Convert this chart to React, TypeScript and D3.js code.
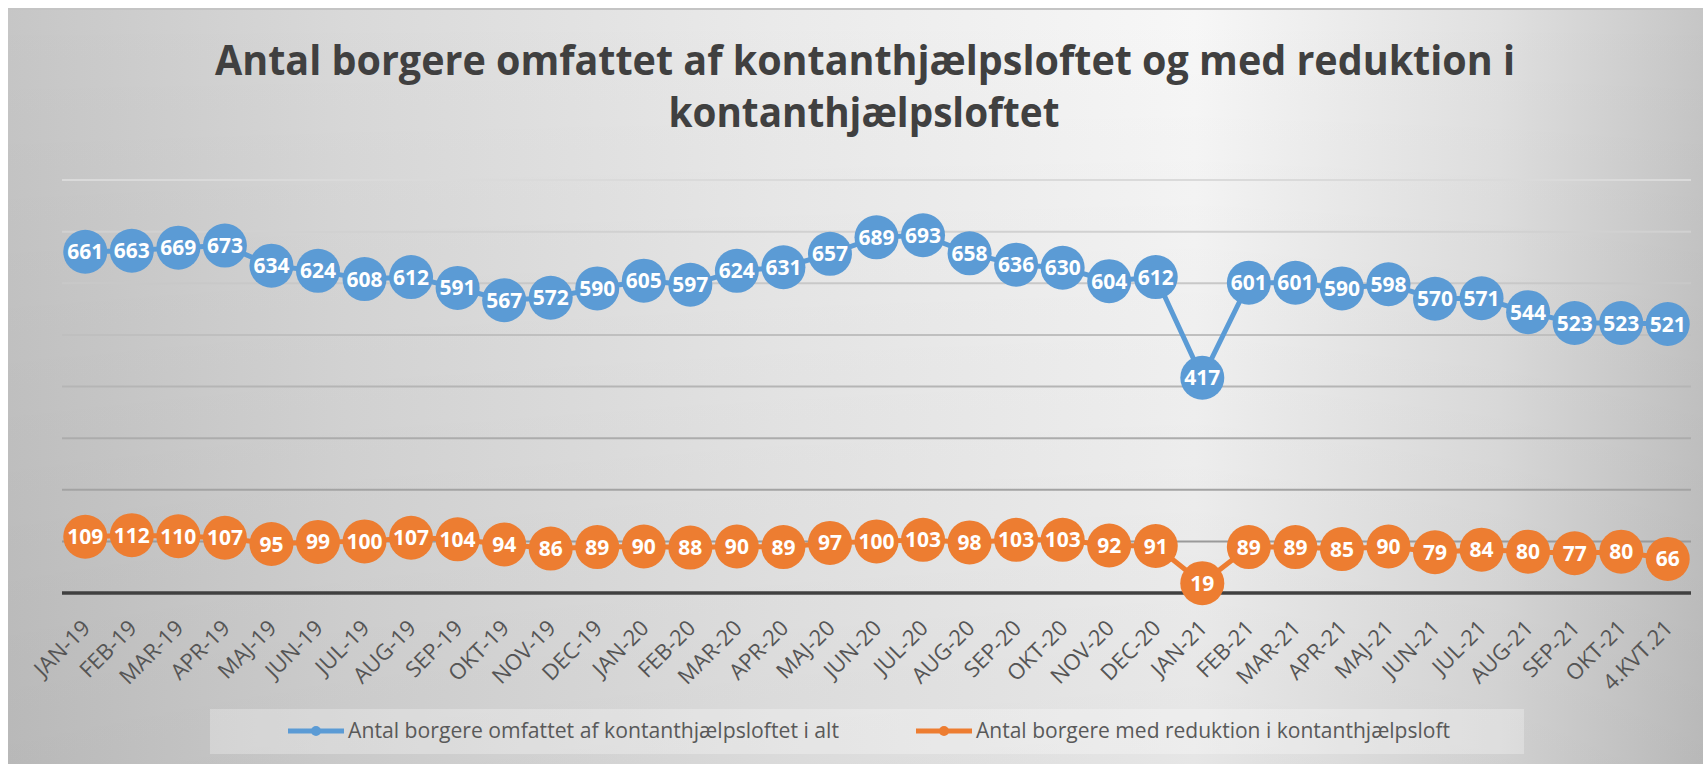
import React, { useEffect, useRef } from 'react';
import * as d3 from 'd3';

const months = [
  "JAN-19", "FEB-19", "MAR-19", "APR-19", "MAJ-19", "JUN-19", "JUL-19", "AUG-19", "SEP-19", "OKT-19", "NOV-19", "DEC-19",
  "JAN-20", "FEB-20", "MAR-20", "APR-20", "MAJ-20", "JUN-20", "JUL-20", "AUG-20", "SEP-20", "OKT-20", "NOV-20", "DEC-20",
  "JAN-21", "FEB-21", "MAR-21", "APR-21", "MAJ-21", "JUN-21", "JUL-21", "AUG-21", "SEP-21", "OKT-21", "4.KVT.21",
];

const totalCount = [
  661, 663, 669, 673, 634, 624, 608, 612, 591, 567, 572, 590,
  605, 597, 624, 631, 657, 689, 693, 658, 636, 630, 604, 612,
  417, 601, 601, 590, 598, 570, 571, 544, 523, 523, 521,
];

const reducedCount = [
  109, 112, 110, 107, 95, 99, 100, 107, 104, 94, 86, 89,
  90, 88, 90, 89, 97, 100, 103, 98, 103, 103, 92, 91,
  19, 89, 89, 85, 90, 79, 84, 80, 77, 80, 66,
];

const yTicks = [100, 200, 300, 400, 500, 600, 700, 800];

const titleLines = [
  "Antal borgere omfattet af kontanthjælpsloftet og med reduktion i",
  "kontanthjælpsloftet",
];

const seriesNames = [
  "Antal borgere omfattet af kontanthjælpsloftet i alt",
  "Antal borgere med reduktion i kontanthjælpsloft",
];

const colors = ["#5B9BD5", "#ED7D31"];
const font = "'Open Sans', 'Liberation Sans', sans-serif";

const App = () => {
  const svgRef = useRef<SVGSVGElement>(null);

  useEffect(() => {
    const svg = d3.select(svgRef.current);
    svg.selectAll("*").remove();

    const width = 1703, height = 764;

    const x = d3.scaleBand<string>().domain(months).range([62, 1691]).padding(0);
    const y = d3.scaleLinear().domain([0, 800]).range([593, 180]);
    const cx = (i: number) => (x(months[i]) as number) + x.bandwidth() / 2;

    // background gradients
    const defs = svg.append("defs");
    const bg = defs.append("linearGradient").attr("id", "bg").attr("x1", 0).attr("x2", 1).attr("y1", 0).attr("y2", 0);
    [[0, "#c6c6c6"], [0.2, "#d9d9d9"], [0.45, "#eaeaea"], [0.7, "#f7f7f7"], [0.88, "#e0e0e0"], [1, "#c6c6c6"]]
      .forEach(([o, c]) => bg.append("stop").attr("offset", o as number).attr("stop-color", c as string));
    const shade = defs.append("linearGradient").attr("id", "shade").attr("x1", 0).attr("x2", 0).attr("y1", 0).attr("y2", 1);
    shade.append("stop").attr("offset", 0).attr("stop-color", "#000").attr("stop-opacity", 0);
    shade.append("stop").attr("offset", 1).attr("stop-color", "#000").attr("stop-opacity", 0.07);

    svg.append("rect").attr("width", width).attr("height", height).attr("fill", "#fff");
    svg.append("rect").attr("x", 8).attr("y", 8).attr("width", width - 8).attr("height", height - 8).attr("fill", "url(#bg)");
    svg.append("rect").attr("x", 8).attr("y", 8).attr("width", width - 8).attr("height", height - 8).attr("fill", "url(#shade)");
    svg.append("line").attr("x1", 8).attr("x2", width).attr("y1", 9).attr("y2", 9).attr("stroke", "#c4c4c4").attr("stroke-width", 2);

    // gridlines
    const gridColor = d3.interpolateRgb("#9a9a9a", "#dadada");
    svg.append("g")
      .selectAll("line")
      .data(yTicks)
      .join("line")
      .attr("x1", x.range()[0])
      .attr("x2", x.range()[1])
      .attr("y1", d => y(d))
      .attr("y2", d => y(d))
      .attr("stroke", d => gridColor((d - 100) / 700))
      .attr("stroke-width", 2);

    // x axis line
    svg.append("line")
      .attr("x1", x.range()[0])
      .attr("x2", x.range()[1])
      .attr("y1", y(0))
      .attr("y2", y(0))
      .attr("stroke", "#404040")
      .attr("stroke-width", 3.5);

    // x labels
    svg.append("g")
      .selectAll("text")
      .data(months)
      .join("text")
      .attr("transform", (d, i) => `translate(${cx(i) + 1},${y(0) + 31}) rotate(-45)`)
      .attr("text-anchor", "end")
      .attr("dy", "0.35em")
      .style("font-family", font)
      .style("font-size", "22px")
      .attr("fill", "#555555")
      .text(d => d);

    // series
    [totalCount, reducedCount].forEach((values, s) => {
      const line = d3.line<number>().x((d, i) => cx(i)).y(d => y(d));
      svg.append("path")
        .datum(values)
        .attr("d", line)
        .attr("fill", "none")
        .attr("stroke", colors[s])
        .attr("stroke-width", 5)
        .attr("stroke-linejoin", "round");

      const pts = svg.append("g")
        .selectAll("g")
        .data(values)
        .join("g")
        .attr("transform", (d, i) => `translate(${cx(i)},${y(d)})`);
      pts.append("circle")
        .attr("r", 22)
        .attr("fill", colors[s]);
      pts.append("text")
        .attr("text-anchor", "middle")
        .attr("dy", "0.36em")
        .style("font-family", font)
        .style("font-size", "21px")
        .style("font-weight", "bold")
        .attr("fill", "#fff")
        .text(d => d);
    });

    // title
    const title = svg.append("g")
      .style("font-family", font)
      .style("font-size", "42px")
      .style("font-weight", "bold")
      .attr("fill", "#404040");
    title.append("text")
      .attr("x", 865).attr("y", 75)
      .attr("text-anchor", "middle")
      .attr("textLength", 1300)
      .attr("lengthAdjust", "spacingAndGlyphs")
      .text(titleLines[0]);
    title.append("text")
      .attr("x", 864).attr("y", 127)
      .attr("text-anchor", "middle")
      .attr("textLength", 391)
      .attr("lengthAdjust", "spacingAndGlyphs")
      .text(titleLines[1]);

    // legend
    const legend = svg.append("g");
    legend.append("rect")
      .attr("x", 210).attr("y", 709)
      .attr("width", 1314).attr("height", 45)
      .attr("fill", "#fff")
      .attr("fill-opacity", 0.28);

    const legendItems = [
      { x: 288, textLen: 491 },
      { x: 916, textLen: 474 },
    ];
    legendItems.forEach((it, i) => {
      const g = legend.append("g").attr("transform", `translate(${it.x}, 731)`);
      g.append("line")
        .attr("x1", 0).attr("x2", 56)
        .attr("stroke", colors[i])
        .attr("stroke-width", 5);
      g.append("circle").attr("cx", 28).attr("r", 5).attr("fill", colors[i]);
      g.append("text")
        .attr("x", 60)
        .attr("y", 7)
        .attr("textLength", it.textLen)
        .attr("lengthAdjust", "spacingAndGlyphs")
        .style("font-family", font)
        .style("font-size", "21px")
        .attr("fill", "#595959")
        .text(seriesNames[i]);
    });
  }, []);

  return (
    <svg
      ref={svgRef}
      width={1703}
      height={764}
      style={{ position: 'absolute', left: 0, top: 0, display: 'block' }}
    ></svg>
  );
};

export default App;
